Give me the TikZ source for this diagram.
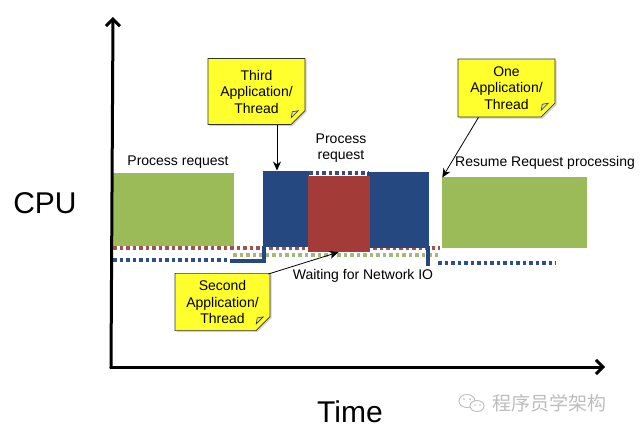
\documentclass[tikz,border=0pt]{standalone}
\usepackage{fontspec}
\setmainfont{Liberation Sans}
\newfontfamily\cjkfont{Noto Sans CJK SC}
\usetikzlibrary{arrows.meta,shapes.misc,shadows}
\definecolor{boxgreen}{HTML}{9BBB59}
\definecolor{boxblue}{HTML}{24487F}
\definecolor{boxred}{HTML}{A33B38}
\definecolor{dotred}{HTML}{A0524F}
\definecolor{dotgreen}{HTML}{A3B87A}
\definecolor{dotblue}{HTML}{2E4E8C}
\definecolor{noteyellow}{HTML}{FFFF2E}
\definecolor{wmgray}{HTML}{BDBDBD}
\tikzset{
  axis/.style={line width=3pt,-{Straight Barb[length=7pt,width=14pt,line width=3pt]}},
  notebox/.style={chamfered rectangle, chamfered rectangle corners=south east,
    chamfered rectangle xsep=7pt, chamfered rectangle ysep=7pt,
    draw=black!80, line width=0.7pt, fill=noteyellow, align=center,
    font=\fontsize{14}{16.5}\selectfont, inner sep=0pt,
    drop shadow={shadow xshift=1.5pt,shadow yshift=-1.5pt,opacity=0.35}},
  lbl/.style={font=\fontsize{14}{16.5}\selectfont, inner sep=0pt, align=center},
  big/.style={font=\fontsize{30}{34}\selectfont, inner sep=0pt},
  dotline/.style={line width=3.5pt, dash pattern=on 3.5pt off 3pt},
  pointer/.style={line width=0.8pt,-{Stealth[length=9pt,width=8pt]}},
  blk/.style={inner sep=0pt, outer sep=0pt}
}
\begin{document}
\begin{tikzpicture}[x=1pt,y=-1pt]
\useasboundingbox (0,0) rectangle (640,434);
\fill[white] (0,0) rectangle (640,434);

% dotted baselines
\draw[dotline,dotred] (113,248) -- (440,248);
\draw[dotline,dotgreen] (233,255) -- (440,255);
\draw[dotline,dotblue] (113,260) -- (230,260);
\draw[dotline,dotblue] (438,263) -- (556,263);
\draw[dotline,dotblue] (309,173) -- (368,173);

% solid blue step lines
\draw[boxblue,line width=3.2pt] (230,261) -- (264,261) -- (264,246);
\draw[boxblue,line width=3.2pt] (428,246) -- (428,266);

% boxes
\fill[boxgreen] (113,173) rectangle (234,246);
\node[blk] (green1) at (173.5,209.5) {};
\fill[boxblue] (263,171) rectangle (309,247);
\node[blk] (blue1) at (286,209) {};
\fill[boxblue] (367,172) rectangle (429,248);
\node[blk] (blue2) at (398,210) {};
\fill[boxred] (308,176) rectangle (370,252);
\node[blk] (red) at (339,214) {};
\node[blk] (redbot) at (339,252) {};
\fill[boxgreen] (442,177) rectangle (587,248);
\node[blk] (green2) at (442,178) {};
\node[blk] (blue1top) at (277,171) {};

% axes
\coordinate (origin) at (111,367);
\coordinate (ytop) at (113,17);
\coordinate (xend) at (605,367);
\draw[axis,line cap=rect] (origin) -- (ytop);
\draw[axis,line cap=rect] (origin) -- (xend);

% labels
\node[big] (cpu) at (45,203) {CPU};
\node[big] (time) at (350,412) {Time};
\node[lbl] (pr1) at (178,162) {Process request};
\node[lbl] (pr2) at (341,148) {Process\\request};
\node[lbl,anchor=west] (resume) at (455,163) {Resume Request processing};
\node[lbl] (wait) at (363,276) {Waiting for Network IO};

% sticky notes
\node[notebox,minimum width=97pt,minimum height=66pt] (third) at (256.5,91.5) {Third\\Application/\\Thread};
\node[notebox,minimum width=97pt,minimum height=58pt] (one) at (506.5,88) {One\\Application/\\Thread};
\node[notebox,minimum width=95pt,minimum height=50pt] (second) at (222.5,302) {Second\\Application/\\Thread};
\foreach \n in {third,one,second}{
  \draw[black!80,line width=0.6pt,fill=yellow!70!black!40] ([xshift=-7pt]\n.south east) .. controls ([xshift=-6pt,yshift=3pt]\n.south east) .. ([xshift=-6pt,yshift=6pt]\n.south east)
    .. controls ([xshift=-3pt,yshift=6pt]\n.south east) .. ([yshift=7pt]\n.south east) -- cycle;
}

% pointers
\draw[pointer] (third.south -| blue1top) -- (blue1top);
\draw[pointer] ([xshift=-28pt]one.south) -- (green2);
\draw[pointer] ([xshift=-2pt,yshift=-1pt]second.north east) -- ([xshift=-4pt]redbot);

% watermark
\node[font=\cjkfont\fontsize{19}{22}\selectfont, text=wmgray, anchor=west, inner sep=0pt] (wm) at (492,403) {程序员学架构};
\draw[wmgray,line width=0.9pt] (467,401) ellipse (8pt and 6.5pt);
\draw[wmgray,line width=0.9pt,fill=white] (477,406) ellipse (7pt and 5.5pt);
\fill[wmgray] (464,399) circle (1pt) (470,399) circle (1pt) (475,405) circle (0.9pt) (480,405) circle (0.9pt);
\end{tikzpicture}
\end{document}
